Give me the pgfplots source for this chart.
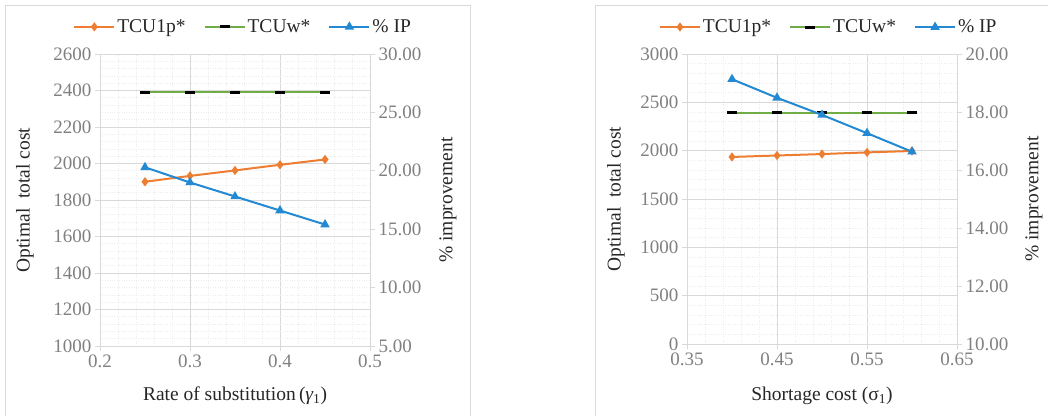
\documentclass[border=0pt]{standalone}
\usepackage{fontspec}
\setmainfont{Liberation Serif}
\usepackage{pgfplots}
\pgfplotsset{compat=1.18}
\definecolor{cOrange}{HTML}{ED7D31}
\definecolor{cGreen}{HTML}{70AD47}
\definecolor{cBlue}{HTML}{2389D2}
\definecolor{cGrid}{HTML}{D9D9D9}
\definecolor{cMinor}{HTML}{EDEDED}
\definecolor{cTick}{HTML}{808080}
\definecolor{cLab}{HTML}{262626}
\pgfplotsset{
  common/.style={
    scale only axis,
    width=270pt,
    /pgf/number format/assume math mode=true,
    tick label style={font=\fontsize{19}{22}\selectfont, text=cTick},
    label style={font=\fontsize{19.5}{22}\selectfont, text=cLab},
    axis line style={draw=cGrid},
    tick style={draw=cGrid, line width=0.8pt},
    tick align=outside,
    major tick length=5pt,
    minor tick length=0pt,
  },
  legstyle/.style={
    legend style={draw=none, fill=none, font=\fontsize{19.5}{22}\selectfont, text=cLab,
      legend columns=3, anchor=center,
      /tikz/every even column/.append style={column sep=16pt}},
    legend image code/.code={\draw[mark repeat=2,mark phase=2] plot coordinates {(0pt,0pt) (20pt,0pt) (40pt,0pt)};},
  },
}
\begin{document}
\begin{tikzpicture}
\path[use as bounding box] (0,0) rectangle (1048pt,416pt);
\draw[cGrid, line width=0.8pt] (5pt,0pt) -- (5pt,411pt) -- (470pt,411pt) -- (470pt,0pt);
\draw[cGrid, line width=0.8pt] (595pt,0pt) -- (595pt,411pt) -- (1048pt,411pt);

% ---------- Left chart ----------
\begin{axis}[common,
  at={(100pt,70pt)}, anchor=south west, height=292pt,
  xmin=0.2, xmax=0.5, ymin=1000, ymax=2600,
  xtick={0.2,0.3,0.4,0.5}, ytick={1000,1200,...,2600},
  minor x tick num=4, minor y tick num=4,
  xticklabel style={/pgf/number format/.cd, fixed, precision=1},
  yticklabel style={/pgf/number format/.cd, fixed, 1000 sep={}},
  grid=both, major grid style={cGrid, line width=0.8pt},
  minor grid style={cMinor, dotted, line width=0.8pt},
  tick pos=left, axis y line*=left, axis x line*=bottom,
  xlabel={Rate of substitution\,({\itshape γ}\textsubscript{1})},
  ylabel={Optimal\ \ total cost},
  xlabel style={at={(axis description cs:0.5,-0.171)}, anchor=center},
  ylabel style={at={(axis description cs:-0.278,0.5)}, anchor=center},
]
\addplot[cOrange, line width=2pt, mark=diamond*, mark size=3pt] coordinates {
 (0.25,1900) (0.30,1932) (0.35,1962) (0.40,1993) (0.45,2022)};
\addplot[cGreen, line width=2pt, mark=-, mark size=5pt, mark options={black, line width=3pt}] coordinates {
 (0.25,2390) (0.30,2390) (0.35,2390) (0.40,2390) (0.45,2390)};
\end{axis}
\begin{axis}[common, legstyle,
  at={(100pt,70pt)}, anchor=south west, height=292pt,
  xmin=0.2, xmax=0.5, ymin=5, ymax=30,
  ytick={5,10,...,30},
  axis y line*=right, axis x line=none,
  yticklabel style={/pgf/number format/.cd, fixed, fixed zerofill, precision=2},
  ylabel={\% improvement},
  ylabel style={at={(axis description cs:1.289,0.5)}, anchor=center},
  legend style={at={(0.53,1.093)}},
]
\addlegendimage{cOrange, line width=2pt, mark=diamond*, mark size=3pt}
\addlegendentry{TCU1p*}
\addlegendimage{cGreen, line width=2pt, mark=-, mark size=5pt, mark options={black, line width=3pt}}
\addlegendentry{TCUw*}
\addplot[cBlue, line width=2pt, mark=triangle*, mark size=3.5pt] coordinates {
 (0.25,20.3) (0.30,19.0) (0.35,17.8) (0.40,16.6) (0.45,15.4)};
\addlegendentry{\% IP}
\end{axis}

% ---------- Right chart ----------
\begin{axis}[common,
  at={(687pt,72pt)}, anchor=south west, height=290pt,
  xmin=0.35, xmax=0.65, ymin=0, ymax=3000,
  xtick={0.35,0.45,0.55,0.65}, ytick={0,500,...,3000},
  minor x tick num=4, minor y tick num=4,
  xticklabel style={/pgf/number format/.cd, fixed, fixed zerofill, precision=2},
  yticklabel style={/pgf/number format/.cd, fixed, 1000 sep={}},
  grid=both, major grid style={cGrid, line width=0.8pt},
  minor grid style={cMinor, dotted, line width=0.8pt},
  tick pos=left, axis y line*=left, axis x line*=bottom,
  xlabel={Shortage cost (σ\textsubscript{1})},
  ylabel={Optimal\ \ total cost},
  xlabel style={at={(axis description cs:0.5,-0.179)}, anchor=center},
  ylabel style={at={(axis description cs:-0.263,0.5)}, anchor=center},
]
\addplot[cOrange, line width=2pt, mark=diamond*, mark size=3pt] coordinates {
 (0.40,1935) (0.45,1950) (0.50,1965) (0.55,1982) (0.60,1997)};
\addplot[cGreen, line width=2pt, mark=-, mark size=5pt, mark options={black, line width=3pt}] coordinates {
 (0.40,2390) (0.45,2390) (0.50,2390) (0.55,2390) (0.60,2390)};
\end{axis}
\begin{axis}[common, legstyle,
  at={(687pt,72pt)}, anchor=south west, height=290pt,
  xmin=0.35, xmax=0.65, ymin=10, ymax=20,
  ytick={10,12,...,20},
  axis y line*=right, axis x line=none,
  yticklabel style={/pgf/number format/.cd, fixed, fixed zerofill, precision=2},
  ylabel={\% improvement},
  ylabel style={at={(axis description cs:1.285,0.5)}, anchor=center},
  legend style={at={(0.525,1.093)}},
]
\addlegendimage{cOrange, line width=2pt, mark=diamond*, mark size=3pt}
\addlegendentry{TCU1p*}
\addlegendimage{cGreen, line width=2pt, mark=-, mark size=5pt, mark options={black, line width=3pt}}
\addlegendentry{TCUw*}
\addplot[cBlue, line width=2pt, mark=triangle*, mark size=3.5pt] coordinates {
 (0.40,19.13) (0.45,18.49) (0.50,17.90) (0.55,17.27) (0.60,16.63)};
\addlegendentry{\% IP}
\end{axis}
\end{tikzpicture}
\end{document}
